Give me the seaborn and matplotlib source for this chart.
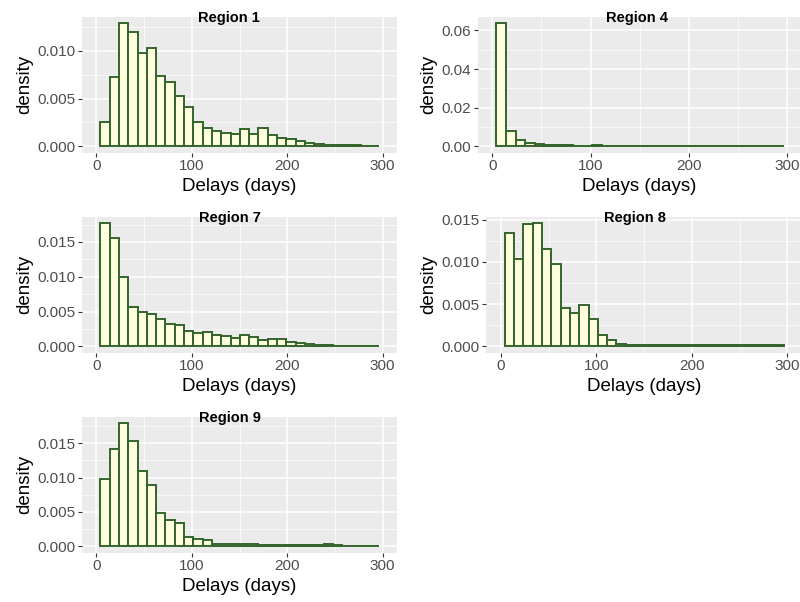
import numpy as np
import pandas as pd
import matplotlib
matplotlib.use("Agg")
import matplotlib.pyplot as plt
from matplotlib.ticker import MultipleLocator, FormatStrFormatter
import seaborn as sns

# Density per 30 bins
region_names = ["Region 1", "Region 4", "Region 7", "Region 8", "Region 9"]

region1 = [0.0026, 0.0073, 0.0129, 0.0120, 0.0098, 0.0103, 0.0074, 0.0067, 0.0053, 0.0041,
           0.0026, 0.0019, 0.0016, 0.0014, 0.0013, 0.0018, 0.0013, 0.0019, 0.0012, 0.0009,
           0.0008, 0.0006, 0.00035, 0.0002, 0.00015, 0.00012, 0.00015, 0.00012, 0.00008, 0.00006]
region4 = [0.0638, 0.0082, 0.0034, 0.0017, 0.0010, 0.0008, 0.0006, 0.0005, 0.0004, 0.0004,
           0.0005, 0.0003, 0.0002, 0.0002, 0.00015, 0.00015, 0.0001, 0.0001, 0.0001, 0.0001,
           0.0001, 0.00008, 0.00008, 0.00008, 0.00006, 0.00006, 0.00006, 0.00005, 0.00005, 0.00005]
region7 = [0.0177, 0.0155, 0.0099, 0.0057, 0.0050, 0.0046, 0.0040, 0.0032, 0.0030, 0.0022,
           0.0019, 0.0020, 0.0016, 0.0015, 0.0012, 0.0017, 0.0013, 0.0009, 0.0010, 0.0011,
           0.0006, 0.0005, 0.0003, 0.0002, 0.00015, 0.0001, 0.0001, 0.0001, 0.00008, 0.00008]
region8 = [0.0134, 0.0103, 0.0145, 0.0146, 0.0115, 0.0098, 0.0045, 0.0040, 0.0049, 0.0032,
           0.0013, 0.0008, 0.0003, 0.0002, 0.0002, 0.0001, 0.0001, 0.0001, 0.0002, 0.0001,
           0.0001, 0.0001, 0.0001, 0.0001, 0.0001, 0.0001, 0.0001, 0.0001, 0.0001, 0.0001]
region9 = [0.0098, 0.0142, 0.0179, 0.0153, 0.0110, 0.0089, 0.0049, 0.0038, 0.0034, 0.0014,
           0.0011, 0.0009, 0.0004, 0.0003, 0.0004, 0.0004, 0.0003, 0.0002, 0.0002, 0.0002,
           0.00015, 0.0002, 0.0002, 0.0002, 0.0004, 0.00015, 0.0001, 0.0001, 0.0001, 0.0001]

densities = [region1, region4, region7, region8, region9]
y_steps = [0.005, 0.02, 0.005, 0.005, 0.005]
y_formats = ["%.3f", "%.2f", "%.3f", "%.3f", "%.3f"]

# bin edges of the histogram (30 bins)
edges = np.linspace(4.2, 296.5, 31)
centers = (edges[:-1] + edges[1:]) / 2

# panel boxes in pixels: left, top, width, height ; title x fraction
W, H = 800, 602
panels = [
    (82.0, 17.0, 315.0, 135.5, 0.467),
    (477.6, 17.0, 324.1, 135.5, 0.492),
    (82.0, 217.0, 315.0, 135.5, 0.471),
    (486.4, 217.0, 315.3, 135.5, 0.471),
    (82.0, 417.0, 315.0, 135.5, 0.470),
]

sns.set_theme(style="darkgrid", rc={
    "axes.facecolor": "#EBEBEB",
    "grid.color": "white",
    "figure.facecolor": "white",
})
plt.rcParams["font.family"] = ["Liberation Sans", "DejaVu Sans"]

fig = plt.figure(figsize=(W / 100, H / 100), dpi=100)

for name, dens, step, fmt, (left, top, w, h, tx) in zip(
        region_names, densities, y_steps, y_formats, panels):
    ax = fig.add_axes([left / W, 1 - (top + h) / H, w / W, h / H])
    df = pd.DataFrame({"delay": centers, "density": dens})
    sns.histplot(data=df, x="delay", weights="density", bins=list(edges),
                 stat="count", color="#FFFFE0", edgecolor="#33652a",
                 linewidth=1.4, alpha=1, ax=ax)

    ymax = max(dens)
    ax.set_xlim(-15, 315)
    ax.set_ylim(-0.05 * ymax, 1.05 * ymax)
    ax.xaxis.set_major_locator(MultipleLocator(100))
    ax.xaxis.set_minor_locator(MultipleLocator(50))
    ax.yaxis.set_major_locator(MultipleLocator(step))
    ax.yaxis.set_minor_locator(MultipleLocator(step / 2))
    ax.yaxis.set_major_formatter(FormatStrFormatter(fmt))

    ax.grid(which="major", color="white", linewidth=1.1)
    ax.grid(which="minor", color="white", linewidth=0.5)
    ax.set_axisbelow(True)
    for s in ax.spines.values():
        s.set_visible(False)

    ax.tick_params(which="major", length=3, width=0.8, color="#333333",
                   labelsize=11, labelcolor="#4D4D4D", pad=2,
                   bottom=True, left=True)
    ax.tick_params(which="minor", length=0)

    ax.set_xlabel("Delays (days)", fontsize=13.5, color="black", labelpad=3)
    ax.set_ylabel("density", fontsize=13.5, color="black", labelpad=3)
    ax.text(tx, 1 - 5 / h, name, transform=ax.transAxes, ha="center",
            va="baseline", fontsize=10.5, fontweight="bold", color="black")

fig.savefig("out.png", dpi=100)
